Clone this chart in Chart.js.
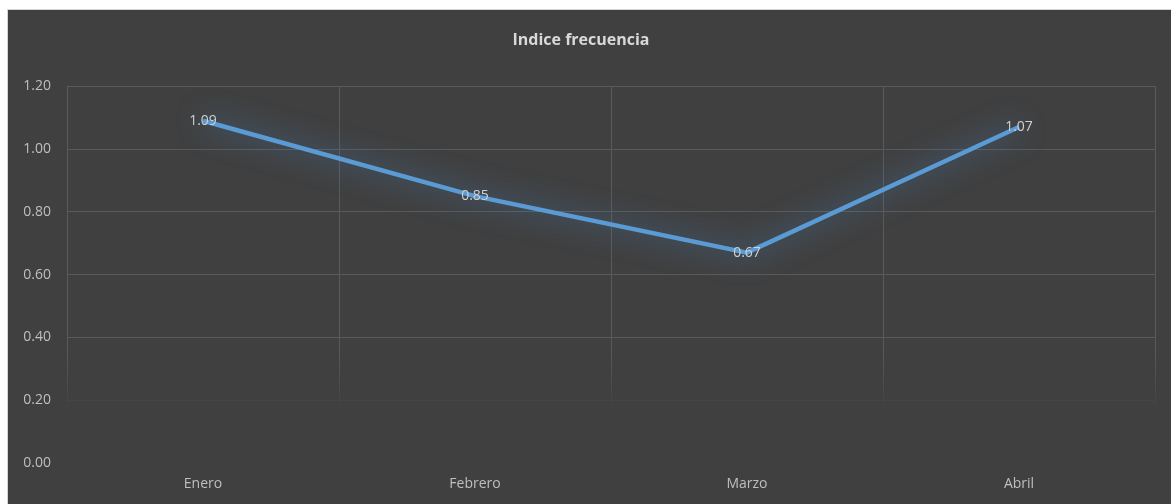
<!DOCTYPE html>
<html>
<head>
<meta charset="utf-8">
<script src="https://cdn.jsdelivr.net/npm/chart.js@4"></script>
<style>
  html, body { margin: 0; padding: 0; background: #ffffff; }
  #wrap { position: absolute; left: 0; top: 0; width: 1171px; height: 504px; }
</style>
</head>
<body>
<div id="wrap"><canvas id="chart" width="1171" height="504"></canvas></div>
<script>
const months = ['Enero', 'Febrero', 'Marzo', 'Abril'];
const indiceFrecuencia = [1.09, 0.85, 0.67, 1.07];
const yMin = 0;
const yMax = 1.2;
const yStep = 0.2;

const fontFamily = '"Open Sans", "Noto Sans", sans-serif';

// grid lines fade out near the bottom of the plot
let gridGradient = null;
function gridColor(context) {
  const ctx = context.chart.ctx;
  if (!gridGradient) {
    gridGradient = ctx.createLinearGradient(0, 0, 0, 504);
    gridGradient.addColorStop(0, '#5a5a5a');
    gridGradient.addColorStop(350 / 504, '#5a5a5a');
    gridGradient.addColorStop(412 / 504, '#404040');
    gridGradient.addColorStop(1, '#404040');
  }
  return gridGradient;
}

const backgroundPlugin = {
  id: 'panelBackground',
  beforeDraw(chart) {
    const { ctx, width, height } = chart;
    ctx.save();
    ctx.fillStyle = '#ffffff';
    ctx.fillRect(0, 0, width, height);
    ctx.fillStyle = '#d4d4d4';
    ctx.fillRect(7, 9, width - 7, height - 9);
    ctx.fillStyle = '#404040';
    ctx.fillRect(8, 10, width - 8, height - 10);
    ctx.restore();
  },
};

const glowPlugin = {
  id: 'lineGlow',
  beforeDatasetsDraw(chart) {
    const ctx = chart.ctx;
    ctx.save();
    ctx.shadowColor = 'rgba(70, 135, 205, 0.9)';
    ctx.shadowBlur = 28;
  },
  afterDatasetsDraw(chart) {
    chart.ctx.restore();
  },
};

const valueLabelPlugin = {
  id: 'valueLabels',
  afterDatasetsDraw(chart) {
    const ctx = chart.ctx;
    const meta = chart.getDatasetMeta(0);
    ctx.save();
    ctx.font = '14px ' + fontFamily;
    ctx.fillStyle = '#d0d0d0';
    ctx.textAlign = 'center';
    ctx.textBaseline = 'middle';
    meta.data.forEach((pt, i) => {
      ctx.fillText(indiceFrecuencia[i].toFixed(2), pt.x, pt.y);
    });
    ctx.restore();
  },
};

const chart = new Chart(document.getElementById('chart').getContext('2d'), {
  type: 'line',
  data: {
    labels: months,
    datasets: [
      {
        label: 'Indice frecuencia',
        data: indiceFrecuencia,
        borderColor: '#5b9bd5',
        borderWidth: 4.5,
        pointRadius: 0,
        tension: 0,
        fill: false,
      },
    ],
  },
  options: {
    responsive: false,
    animation: false,
    layout: {
      padding: { left: 7, right: 16, top: 9, bottom: 0 },
    },
    plugins: {
      legend: { display: false },
      tooltip: { enabled: false },
      title: {
        display: true,
        text: 'Indice frecuencia',
        color: '#d9d9d9',
        font: { family: fontFamily, size: 16, weight: 'bold', lineHeight: 1.2 },
        padding: { top: 22, bottom: 36 },
      },
    },
    scales: {
      x: {
        offset: true,
        grid: {
          offset: true,
          color: gridColor,
          lineWidth: 1,
          drawTicks: false,
        },
        border: { display: false },
        ticks: {
          color: '#bfbfbf',
          font: { family: fontFamily, size: 14 },
          padding: 13,
          maxRotation: 0,
        },
        afterFit(scale) {
          scale.height = 41;
        },
      },
      y: {
        min: yMin,
        max: yMax,
        grid: {
          color: gridColor,
          lineWidth: 1,
          drawTicks: false,
        },
        border: { display: false },
        ticks: {
          stepSize: yStep,
          color: '#bfbfbf',
          font: { family: fontFamily, size: 14 },
          padding: 16,
          callback: value => Number(value).toFixed(2),
        },
        afterFit(scale) {
          scale.width = 60;
        },
      },
    },
  },
  plugins: [backgroundPlugin, glowPlugin, valueLabelPlugin],
});
</script>
</body>
</html>
